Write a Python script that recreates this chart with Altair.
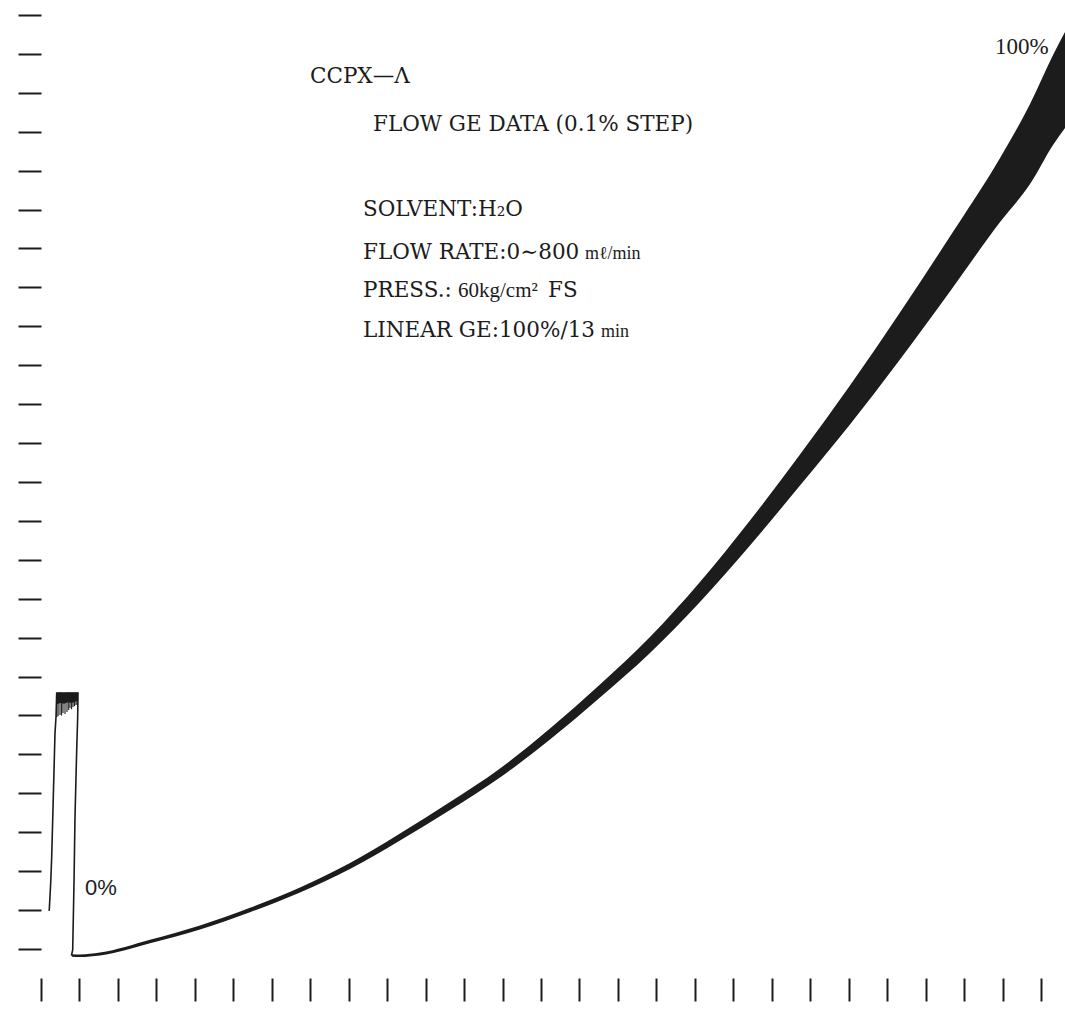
import altair as alt
import pandas as pd

INK = "#1c1c1c"

# Chart-paper divisions: time in minutes (0.5 min / div), pressure in kg/cm² (60 FS, 2.5 / div)
time_ticks = [0, 0.5, 1, 1.5, 2, 2.5, 3, 3.5, 4, 4.5, 5, 5.5, 6, 6.5, 7, 7.5, 8, 8.5, 9,
              9.5, 10, 10.5, 11, 11.5, 12, 12.5, 13]
press_ticks = [0, 2.5, 5, 7.5, 10, 12.5, 15, 17.5, 20, 22.5, 25, 27.5, 30, 32.5, 35, 37.5,
               40, 42.5, 45, 47.5, 50, 52.5, 55, 57.5, 60]

# Start-up pressure spike, pen path in drawing order
spike_t = [0.104, 0.108, 0.126, 0.139, 0.160, 0.182, 0.195, 0.204, 0.481, 0.477, 0.464,
           0.442, 0.429, 0.412, 0.397, 0.403]
spike_p = [2.45, 2.55, 4.24, 5.91, 9.76, 13.87, 14.90, 16.44, 16.44, 14.90, 12.78,
           8.48, 4.24, -0.06, -0.39, -0.42]

# Dense pen oscillation on top of the spike
plateau_t = [0.200, 0.250, 0.300, 0.350, 0.400, 0.450, 0.481]
plateau_hi = [16.44, 16.47, 16.45, 16.48, 16.46, 16.47, 16.44]
plateau_lo = [15.70, 15.80, 15.75, 15.85, 15.80, 15.90, 15.95]
hatch_t = [0.205, 0.222, 0.247, 0.268, 0.286, 0.312, 0.338, 0.360, 0.377, 0.398, 0.416,
           0.436, 0.455, 0.470]
hatch_lo = [14.90, 14.95, 15.03, 15.00, 15.16, 15.10, 15.22, 15.35, 15.48, 15.40, 15.54,
            15.60, 15.67, 15.70]

# Gradient run 0 -> 100 %: upper and lower envelope of the 0.1 % step trace
grad_t = [0.403, 0.507, 0.767, 1.417, 2.067, 2.717, 3.367, 4.017, 4.667, 5.317, 5.967,
          6.617, 7.267, 7.917, 8.567, 9.217, 9.867, 10.517, 11.167, 11.817, 12.468,
          12.858, 13.157, 13.313]
grad_hi = [-0.337, -0.353, -0.225, 0.594, 1.510, 2.650, 3.950, 5.524, 7.419, 9.442, 11.594,
           14.164, 16.990, 20.041, 23.574, 27.524, 31.764, 36.196, 40.885, 45.767, 50.809,
           54.278, 57.425, 58.903]
grad_lo = [-0.498, -0.520, -0.418, 0.369, 1.253, 2.361, 3.629, 5.139, 6.969, 8.929, 11.016,
           13.457, 16.155, 19.013, 22.289, 25.918, 29.772, 33.691, 37.866, 42.234, 46.698,
           49.139, 51.644, 52.736]

# Annotation texts and their baseline anchors (t, p)
note_text = ["CCPX—Λ", "FLOW GE DATA (0.1% STEP)", "SOLVENT:H₂O", "FLOW RATE:0∼800",
             "PRESS.:", "FS", "LINEAR GE:100%/13"]
note_t = [3.497, 4.316, 4.186, 4.186, 4.186, 6.591, 4.186]
note_p = [55.63, 52.54, 47.08, 44.32, 41.91, 41.91, 39.31]

unit_text = ["mℓ/min", "60kg/cm²", "min"]
unit_t = [7.072, 5.421, 7.280]
unit_p = [44.32, 41.91, 39.31]
unit_size = [18, 21, 18]

pct_text = ["100%"]
pct_t = [12.402]
pct_p = [57.94]

zero_text = ["0%"]
zero_t = [0.572]
zero_p = [3.92]

spike = pd.DataFrame({"seq": list(range(len(spike_t))), "t": spike_t, "p": spike_p})
plateau = pd.DataFrame({"t": plateau_t, "hi": plateau_hi, "lo": plateau_lo})
hatch = pd.DataFrame({"t": hatch_t, "lo": hatch_lo, "hi": [16.44] * len(hatch_t)})
grad = pd.DataFrame({"t": grad_t, "hi": grad_hi, "lo": grad_lo})
notes = pd.DataFrame({"text": note_text, "t": note_t, "p": note_p})
units = pd.DataFrame({"text": unit_text, "t": unit_t, "p": unit_p, "size": unit_size})
pcts = pd.DataFrame({"text": pct_text, "t": pct_t, "p": pct_p})
zero = pd.DataFrame({"text": zero_text, "t": zero_t, "p": zero_p})

x_scale = alt.Scale(domain=[0, 13.3125], nice=False, zero=False)
y_scale = alt.Scale(domain=[-1.863, 60.96], nice=False, zero=False)

x_axis = alt.Axis(values=time_ticks, labels=False, domain=False, grid=False, ticks=True,
                  tickSize=23, tickWidth=2, tickColor=INK, title=None)
y_axis = alt.Axis(values=press_ticks, labels=False, domain=False, grid=False, ticks=True,
                  tickSize=23, tickWidth=2, tickColor=INK, title=None)


def xy(xf, yf):
    return dict(
        x=alt.X(xf, scale=x_scale, axis=x_axis),
        y=alt.Y(yf, scale=y_scale, axis=y_axis),
    )


band = alt.Chart(grad).mark_area(color=INK, interpolate="monotone", clip=True).encode(
    **xy("t:Q", "hi:Q"), y2="lo:Q"
)

spike_line = alt.Chart(spike).mark_line(color=INK, strokeWidth=1.6).encode(
    **xy("t:Q", "p:Q"), order="seq:Q"
)

plateau_band = alt.Chart(plateau).mark_area(color=INK).encode(
    **xy("t:Q", "hi:Q"), y2="lo:Q"
)

hatch_rules = alt.Chart(hatch).mark_rule(color=INK, strokeWidth=1.1).encode(
    **xy("t:Q", "hi:Q"), y2="lo:Q"
)

note_layer = alt.Chart(notes).mark_text(
    align="left", baseline="alphabetic", font="DejaVu Serif", fontSize=21.5, color=INK
).encode(**xy("t:Q", "p:Q"), text="text:N")

unit_layer = alt.Chart(units).mark_text(
    align="left", baseline="alphabetic", font="Liberation Serif", color=INK
).encode(
    **xy("t:Q", "p:Q"),
    text="text:N",
    size=alt.Size("size:Q", scale=None, legend=None),
)

pct_layer = alt.Chart(pcts).mark_text(
    align="left", baseline="middle", font="Liberation Serif", fontSize=23, color=INK
).encode(**xy("t:Q", "p:Q"), text="text:N")

zero_layer = alt.Chart(zero).mark_text(
    align="left", baseline="middle", font="Liberation Sans", fontSize=22, color=INK
).encode(**xy("t:Q", "p:Q"), text="text:N")

chart = alt.layer(
    band, spike_line, plateau_band, hatch_rules, note_layer, unit_layer, pct_layer,
    zero_layer
).properties(
    width=1024,
    height=978,
    autosize=alt.AutoSizeParams(type="none"),
    padding={"left": 41, "top": 0, "right": 0, "bottom": 35},
    background="white",
).configure_view(strokeWidth=0)

chart.save("out.html", embed_options={"renderer": "svg", "actions": False})
